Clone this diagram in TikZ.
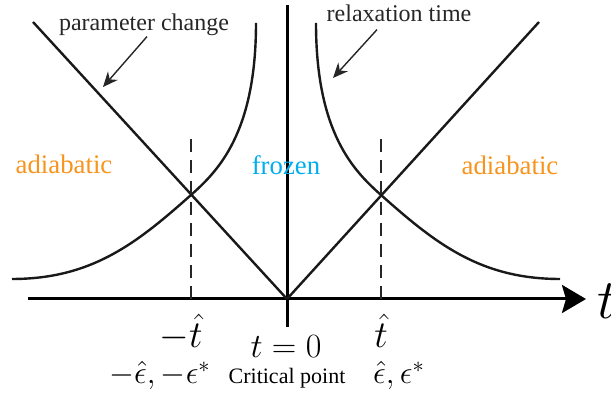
\RequirePackage{fix-cm}
\documentclass[tikz,border=0pt]{standalone}
\usepackage{amsmath}
\usepackage{xcolor}
\usepackage{fontspec}
\newfontfamily\labelfont{Liberation Serif}
\usetikzlibrary{arrows,arrows.meta,positioning,calc}
\definecolor{adiaorange}{RGB}{247,148,29}
\definecolor{frozenblue}{RGB}{0,174,239}
\tikzstyle{curve}  =[line width=1.2pt, black!90]
\tikzstyle{axis}   =[line width=1.5pt, -{Stealth[length=12pt,width=14pt,inset=2pt]}]
\tikzstyle{guide}  =[dash pattern=on 6.5pt off 4pt, line width=1pt, black!85]
\tikzstyle{pointer}=[-{Stealth[length=7.5pt,width=6.5pt]}, line width=0.7pt, black!85]
\tikzstyle{note}   =[inner sep=0pt, anchor=base, text=black!85,
                     font=\labelfont\fontsize{12}{14}\selectfont]
\tikzstyle{regime} =[inner sep=0pt, anchor=base,
                     font=\labelfont\fontsize{13.4}{16}\selectfont]
\tikzstyle{cplabel}=[inner sep=0pt, anchor=base,
                     font=\labelfont\fontsize{11}{13}\selectfont]
\tikzstyle{tlabel} =[inner sep=0pt, anchor=base, font=\fontsize{19}{22}\selectfont]
\tikzstyle{zlabel} =[inner sep=0pt, anchor=base, font=\fontsize{17}{20}\selectfont]
\tikzstyle{elabel} =[inner sep=0pt, anchor=base, font=\fontsize{16}{19}\selectfont]

\begin{document}
\begin{tikzpicture}[x=0.5pt, y=-0.5pt]
  \useasboundingbox (0,0) rectangle (611,399);

  % ── key points ─────────────────────────────────────────────────────────────
  \coordinate (O)     at (287,299);
  \coordinate (axbeg) at (28,299);
  \coordinate (axend) at (586,299);
  \coordinate (vtop)  at (287,5);
  \coordinate (vbot)  at (287,327);
  \coordinate (pcl)   at (33,22);
  \coordinate (pcr)   at (539,22);
  \coordinate (xl)    at (191,195);
  \coordinate (xr)    at (381,195);
  \coordinate (gl)    at (191,299);
  \coordinate (gr)    at (381,299);

  % ── axes ───────────────────────────────────────────────────────────────────
  \draw[axis] (axbeg) -- (axend);
  \draw[line width=1.5pt] (vtop) -- (vbot);

  % ── parameter change (V) and relaxation time (two branches) ────────────────
  \draw[curve] (pcl) -- (O);
  \draw[curve] (O) -- (pcr);
  \draw[curve] (12,279) .. controls (92,279) and (137,243) .. (xl)
               .. controls (218,171) and (256,133) .. (256,23);
  \draw[curve] (560,279) .. controls (480,279) and (435,243) .. (xr)
               .. controls (354,171) and (316,133) .. (316,23);

  % ── freeze-out times ───────────────────────────────────────────────────────
  \draw[guide] (gl) -- ++(0,-167);
  \draw[guide] (gr) -- ++(0,-167);

  % ── labels ─────────────────────────────────────────────────────────────────
  \node[note] (pc) at (144,31) {parameter change};
  \node[note] (rt) at (399,22) {relaxation time};
  \node[regime, text=adiaorange] (adl) at (64,174)  {adiabatic};
  \node[regime, text=frozenblue] (frz) at (286,175) {frozen};
  \node[regime, text=adiaorange] (adr) at (510,175) {adiabatic};
  \node[tlabel] (tm) at (181,348) {$-\hat{t}$};
  \node[tlabel] (tp) at (381,348) {$\hat{t}$};
  \node[zlabel] (tz) at (286,358) {$t=0$};
  \node[elabel] (em) at (160,384) {$-\hat{\epsilon}, -\epsilon^*$};
  \node[cplabel] (cp) at (287,384) {Critical point};
  \node[elabel] (ep) at (399,384) {$\hat{\epsilon}, \epsilon^*$};
  \node[inner sep=0pt, anchor=base west, font=\fontsize{28}{32}\selectfont]
    (tax) at (597,319) {$t$};

  % ── pointers ───────────────────────────────────────────────────────────────
  \coordinate (pctip) at (103,87);
  \coordinate (rttip) at (333,78);
  \draw[pointer] ([xshift=1.5pt]pc.south) -- (pctip);
  \draw[pointer] ([xshift=-11pt, yshift=-3.5pt]rt.south) -- (rttip);

\end{tikzpicture}
\end{document}
